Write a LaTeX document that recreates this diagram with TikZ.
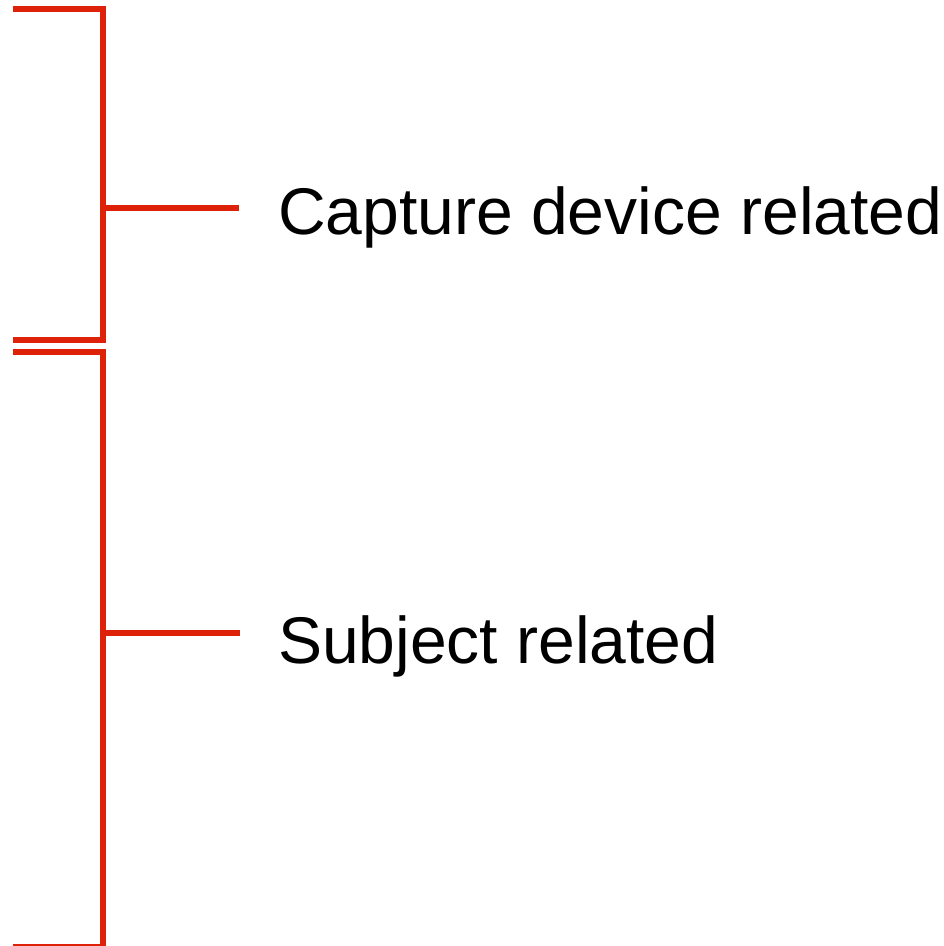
\documentclass[tikz,border=0pt]{standalone}
\usepackage{fontspec}
\setmainfont{Liberation Sans}
\definecolor{bracketred}{RGB}{221,34,9}

\begin{document}
\begin{tikzpicture}[x=1pt,y=-1pt,
  bracket/.style={draw=bracketred, line width=6pt},
  grouplabel/.style={anchor=base west, inner sep=0pt, font=\fontsize{66}{79}\selectfont}]
\useasboundingbox (0,0) rectangle (944,946);
% top group
\coordinate (ctop) at (13,9);
\coordinate (cbot) at (13,340);
\coordinate (ctick) at (103,208);
\coordinate (cend) at (239,208);
\node[grouplabel] (capture) at (278,234) {Capture device related};
\draw[bracket] (ctop) -- (103,9) -- (103,340) -- (cbot);
\draw[bracket] (ctick) -- (cend);
% bottom group
\coordinate (stop) at (13,352);
\coordinate (sbot) at (13,947);
\coordinate (stick) at (103,633);
\coordinate (send) at (240,633);
\node[grouplabel] (subject) at (278,663) {Subject related};
\draw[bracket] (stop) -- (103,352) -- (103,947) -- (sbot);
\draw[bracket] (stick) -- (send);
\end{tikzpicture}
\end{document}
